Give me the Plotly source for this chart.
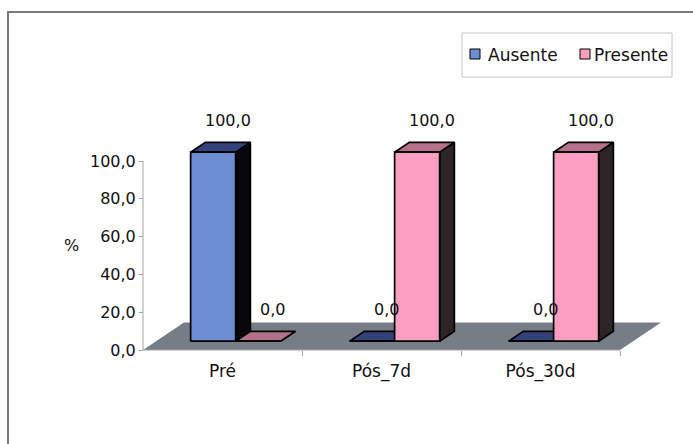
import plotly.graph_objects as go

# ---- data ----
categories = ["Pré", "Pós_7d", "Pós_30d"]
series_names = ["Ausente", "Presente"]
ausente = [100.0, 0.0, 0.0]
presente = [0.0, 100.0, 100.0]
y_ticks = [0, 20, 40, 60, 80, 100]

# ---- colours (front, top, side) ----
face_colors = {
    "Ausente": ("#6e8ed3", "#34427c", "#08080c"),
    "Presente": ("#fd9fc0", "#b6718a", "#2c2427"),
}
FLOOR_COLOR = "#777d87"
AXIS_COLOR = "#a3a3a3"
FONT = "DejaVu Sans"

# ---- geometry ----
W, H = 693, 444
PAD = 4                      # px between plot edge and drawn axes
AX_LEFT, AX_BOTTOM = 143, 350
L = AX_LEFT - PAD
B = H - (AX_BOTTOM + PAD)
PW, PH = W - L, H - B
PX_PER_CAT = 159.0
PX_PER_VAL = 1.89

x_lo = -0.5 - PAD / PX_PER_CAT
x_hi = x_lo + PW / PX_PER_CAT
y_lo = -PAD / PX_PER_VAL
y_hi = y_lo + PH / PX_PER_VAL

# oblique depth axis of the 3-D look
DEPTH_X = 41 / PX_PER_CAT
DEPTH_Y = 27.5 / PX_PER_VAL
F_FRONT, F_BACK = 0.32, 0.68
BAR_W = 45 / PX_PER_CAT


def paper_x(px):
    return (px - L) / PW


def paper_y(py):
    return (H - B - py) / PH


def fmt(v):
    return f"{v:.1f}".replace(".", ",")


def closed(xs, ys):
    return xs + xs[:1], ys + ys[:1]


def bar_faces(xl, v):
    xr = xl + BAR_W
    fx0, fy0 = F_FRONT * DEPTH_X, F_FRONT * DEPTH_Y
    fx1, fy1 = F_BACK * DEPTH_X, F_BACK * DEPTH_Y
    side = closed([xr + fx0, xr + fx1, xr + fx1, xr + fx0],
                  [fy0, fy1, v + fy1, v + fy0])
    top = closed([xl + fx0, xr + fx0, xr + fx1, xl + fx1],
                 [v + fy0, v + fy0, v + fy1, v + fy1])
    front = closed([xl + fx0, xr + fx0, xr + fx0, xl + fx0],
                   [fy0, fy0, v + fy0, v + fy0])
    return side, top, front


fig = go.Figure()

# floor of the 3-D chart
n = len(categories)
fx, fy = closed([-0.5, n - 0.5, n - 0.5 + DEPTH_X, -0.5 + DEPTH_X],
                [0, 0, DEPTH_Y, DEPTH_Y])
fig.add_trace(go.Scatter(x=fx, y=fy, mode="lines", fill="toself",
                         fillcolor=FLOOR_COLOR, line=dict(width=0),
                         hoverinfo="skip", showlegend=False))

values = {"Ausente": ausente, "Presente": presente}
annotations = []
for i, cat in enumerate(categories):
    for s, name in enumerate(series_names):
        v = values[name][i]
        xl = i - BAR_W + s * BAR_W
        front_c, top_c, side_c = face_colors[name]
        side, top, front = bar_faces(xl, v)
        for (xs, ys), col in ((side, side_c), (top, top_c), (front, front_c)):
            fig.add_trace(go.Scatter(
                x=xs, y=ys, mode="lines", fill="toself", fillcolor=col,
                line=dict(color="#000000", width=1.7), hoverinfo="skip",
                showlegend=False, name=name))
        annotations.append(dict(
            x=xl + BAR_W / 2 + F_BACK * DEPTH_X, y=v + F_BACK * DEPTH_Y,
            xref="x", yref="y", text=fmt(v), showarrow=False, yshift=22,
            font=dict(family=FONT, size=16, color="#111111")))

# axis title
annotations.append(dict(x=paper_x(62), y=paper_y(257), xref="paper", yref="paper",
                        text="%", showarrow=False,
                        font=dict(family=FONT, size=16, color="#111111")))

# chart border, legend box, swatches and labels
shapes = []
shapes.append(dict(type="rect", xref="paper", yref="paper",
                   x0=paper_x(8), x1=paper_x(705), y0=paper_y(12), y1=paper_y(470),
                   line=dict(color="#7a7a7a", width=2), fillcolor="rgba(0,0,0,0)"))
shapes.append(dict(type="rect", xref="paper", yref="paper",
                   x0=paper_x(462), x1=paper_x(672), y0=paper_y(33), y1=paper_y(77),
                   line=dict(color="#c4c4c4", width=1), fillcolor="#ffffff"))
legend_pos = {"Ausente": (470, 486), "Presente": (580, 592)}
for name in series_names:
    sx, tx = legend_pos[name]
    shapes.append(dict(type="rect", xref="paper", yref="paper",
                       x0=paper_x(sx), x1=paper_x(sx + 10),
                       y0=paper_y(49), y1=paper_y(59),
                       line=dict(color="#000000", width=1),
                       fillcolor=face_colors[name][0]))
    annotations.append(dict(x=paper_x(tx), y=paper_y(55), xref="paper", yref="paper",
                            text=name, showarrow=False, xanchor="left", yanchor="middle",
                            font=dict(family=FONT, size=17, color="#111111")))

# axis lines
shapes.append(dict(type="line", xref="x", yref="y", x0=-0.5, x1=-0.5,
                   y0=0, y1=max(y_ticks), line=dict(color=AXIS_COLOR, width=1)))
shapes.append(dict(type="line", xref="x", yref="y", x0=-0.5, x1=n - 0.5,
                   y0=0, y1=0, line=dict(color=AXIS_COLOR, width=1)))

fig.update_layout(
    width=W, height=H,
    margin=dict(l=L, r=0, t=0, b=B),
    paper_bgcolor="#ffffff", plot_bgcolor="#ffffff",
    showlegend=False,
    shapes=shapes, annotations=annotations,
    xaxis=dict(range=[x_lo, x_hi], anchor="free", position=PAD / PH,
               showgrid=False, zeroline=False, showline=False,
               tickvals=list(range(n)), ticktext=categories,
               ticks="outside", ticklen=6, tickcolor="rgba(0,0,0,0)",
               minor=dict(tickvals=[k + 0.5 for k in range(n)], ticks="outside",
                          ticklen=5, tickcolor=AXIS_COLOR, tickwidth=1),
               tickfont=dict(family=FONT, size=17, color="#111111")),
    yaxis=dict(range=[y_lo, y_hi], anchor="free", position=PAD / PW,
               showgrid=False, zeroline=False, showline=False,
               tickvals=y_ticks, ticktext=[fmt(t) for t in y_ticks],
               ticks="outside", ticklen=4, tickcolor=AXIS_COLOR,
               tickfont=dict(family=FONT, size=16, color="#111111")),
)

fig.write_html("out.html")
